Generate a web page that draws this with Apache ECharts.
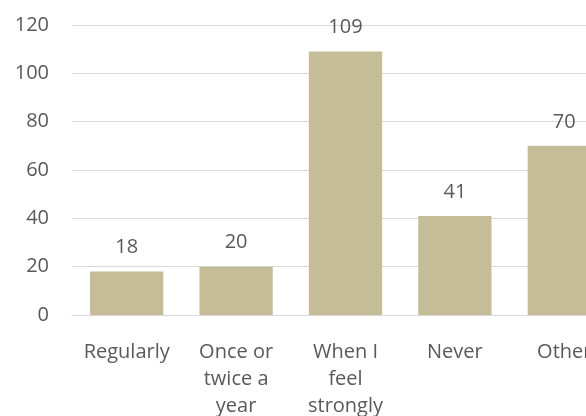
<!DOCTYPE html>
<html>
<head>
<meta charset="utf-8">
<script src="https://cdn.jsdelivr.net/npm/echarts@6/dist/echarts.min.js"></script>
<style>
  html, body { margin: 0; padding: 0; background: #fff; overflow: hidden; }
  /* the last bar runs past the right edge in the original, so the canvas is wider than the window */
  #chart { width: 640px; height: 416px; }
</style>
</head>
<body>
<div id="chart"></div>
<script>
// categories as shown on the x axis (line breaks as in the picture)
var categories = ['Regularly', 'Once or\ntwice a\nyear', 'When I\nfeel\nstrongly', 'Never', 'Other']
var counts = [18, 20, 109, 41, 70]
var yTicks = { min: 0, max: 120, step: 20 }

var textColor = '#595959'
var fontFamily = '"Open Sans", sans-serif'

var myChart = echarts.init(document.getElementById('chart'))
var option = {
  backgroundColor: '#fff',
  animation: false,
  grid: {
    left: 72,
    top: 25,
    width: 547,
    height: 290,
    outerBoundsMode: 'none'
  },
  xAxis: {
    type: 'category',
    data: categories,
    axisLine: { show: true, lineStyle: { color: '#D9D9D9', width: 1 } },
    axisTick: { show: false },
    axisLabel: {
      color: textColor,
      fontFamily: fontFamily,
      fontSize: 20,
      lineHeight: 27,
      margin: 24,
      interval: 0
    }
  },
  yAxis: {
    type: 'value',
    min: yTicks.min,
    max: yTicks.max,
    interval: yTicks.step,
    axisLine: { show: false },
    axisTick: { show: false },
    axisLabel: {
      color: textColor,
      fontFamily: fontFamily,
      fontSize: 20,
      margin: 23
    },
    splitLine: { lineStyle: { color: '#D9D9D9', width: 1 } }
  },
  series: [
    {
      type: 'bar',
      data: counts,
      barCategoryGap: '33%',
      itemStyle: { color: '#C4BD97' },
      label: {
        show: true,
        position: 'top',
        distance: 14,
        color: textColor,
        fontFamily: fontFamily,
        fontSize: 20
      }
    }
  ]
}
myChart.setOption(option)
</script>
</body>
</html>
